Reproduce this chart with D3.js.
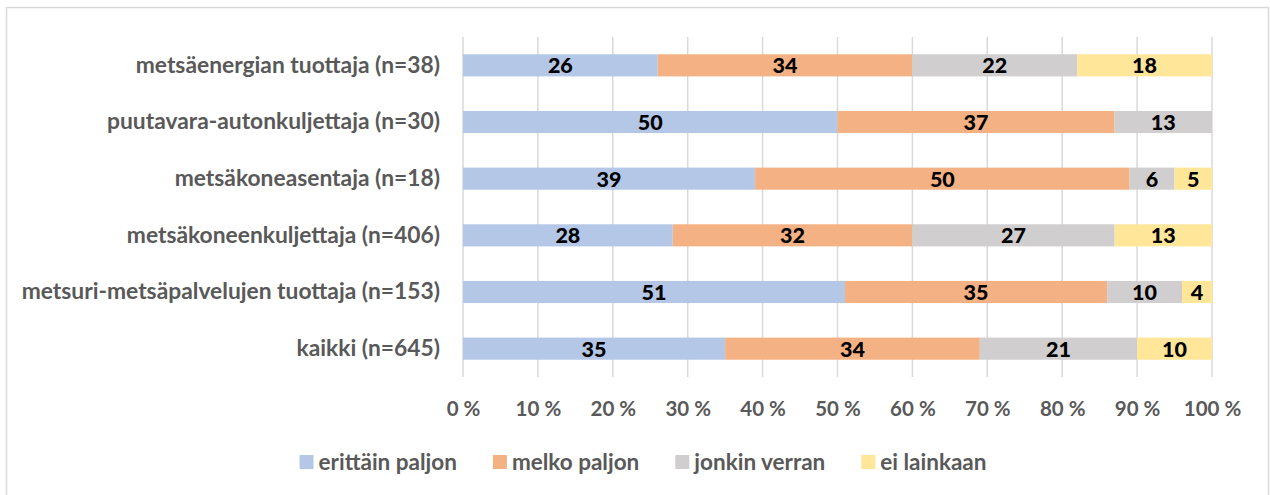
<!DOCTYPE html>
<html>
<head>
<meta charset="utf-8">
<script src="https://cdn.jsdelivr.net/npm/d3@7"></script>
<style>
  html, body { margin: 0; padding: 0; background: #fff; }
  text { font-family: Lato, "Open Sans", sans-serif; font-weight: bold; }
</style>
</head>
<body>
<div id="chart"></div>
<script>
const categories = [
  "metsäenergian tuottaja (n=38)",
  "puutavara-autonkuljettaja (n=30)",
  "metsäkoneasentaja (n=18)",
  "metsäkoneenkuljettaja (n=406)",
  "metsuri-metsäpalvelujen tuottaja (n=153)",
  "kaikki (n=645)"
];
const seriesNames = ["erittäin paljon", "melko paljon", "jonkin verran", "ei lainkaan"];
const erittainPaljon = [26, 50, 39, 28, 51, 35];
const melkoPaljon = [34, 37, 50, 32, 35, 34];
const jonkinVerran = [22, 13, 6, 27, 10, 21];
const eiLainkaan = [18, 0, 5, 13, 4, 10];
const tickValues = [0, 10, 20, 30, 40, 50, 60, 70, 80, 90, 100];
const colors = ["#b4c7e7", "#f4b183", "#d0cece", "#ffe699"];

let width = 1270,
    height = 495,
    margin = {top: 37, right: 58, bottom: 118, left: 463};

let rows = categories.map((c, i) => ({
  cat: c,
  [seriesNames[0]]: erittainPaljon[i],
  [seriesNames[1]]: melkoPaljon[i],
  [seriesNames[2]]: jonkinVerran[i],
  [seriesNames[3]]: eiLainkaan[i]
}));

let stack = d3.stack().keys(seriesNames);
let layers = stack(rows);

let x = d3.scaleLinear().domain([0, 100]).range([margin.left, width - margin.right]);
let y = d3.scaleBand().domain(categories).range([margin.top, height - margin.bottom]).paddingInner(0.61).paddingOuter(0.305);
let color = d3.scaleOrdinal().domain(seriesNames).range(colors);

let svg = d3.select("#chart")
  .append("svg")
  .attr("width", width)
  .attr("height", height);

// chart frame
svg.append("rect")
  .attr("x", 6.5).attr("y", 7.5)
  .attr("width", 1262).attr("height", 495)
  .attr("fill", "none")
  .attr("stroke", "#d9d9d9")
  .attr("stroke-width", 1.5);

// gridlines
svg.append("g")
  .selectAll("line")
  .data(tickValues)
  .join("line")
  .attr("x1", d => x(d)).attr("x2", d => x(d))
  .attr("y1", margin.top).attr("y2", height - margin.bottom)
  .attr("stroke", "#d9d9d9")
  .attr("stroke-width", 1.5);

// x tick labels
let xAxis = svg.append("g")
  .attr("transform", "translate(0," + (height - margin.bottom) + ")")
  .call(d3.axisBottom(x).tickValues(tickValues).tickSize(0).tickPadding(24).tickFormat(d => d + " %"));
xAxis.select(".domain").remove();
xAxis.selectAll("text")
  .attr("fill", "#595959")
  .style("font-size", "20.5px")
  .style("font-family", "Lato, sans-serif")
  .style("font-weight", "bold");

// category labels
let yAxis = svg.append("g")
  .attr("transform", "translate(" + margin.left + ",0)")
  .call(d3.axisLeft(y).tickSize(0).tickPadding(23));
yAxis.select(".domain").remove();
yAxis.selectAll("text")
  .attr("fill", "#595959")
  .style("font-size", "22.8px")
  .style("font-family", "Lato, sans-serif")
  .style("font-weight", "bold");

// bars
let layer = svg.append("g")
  .selectAll("g")
  .data(layers)
  .join("g")
  .attr("fill", d => color(d.key));

layer.selectAll("rect")
  .data(d => d.filter(s => s[1] - s[0] > 0))
  .join("rect")
  .attr("x", d => x(d[0]))
  .attr("y", d => y(d.data.cat))
  .attr("width", d => x(d[1]) - x(d[0]))
  .attr("height", y.bandwidth());

// value labels
layer.selectAll("text")
  .data(d => d.filter(s => s[1] - s[0] > 0))
  .join("text")
  .attr("x", d => (x(d[0]) + x(d[1])) / 2)
  .attr("y", d => y(d.data.cat) + y.bandwidth() / 2)
  .attr("dy", "0.37em")
  .attr("text-anchor", "middle")
  .attr("fill", "#000")
  .style("font-size", "21.5px")
  .style("font-weight", "900")
  .text(d => d[1] - d[0]);

// legend
let legend = svg.append("g").attr("transform", "translate(0,462)");
let item = legend.selectAll("g")
  .data(seriesNames)
  .join("g");
item.append("rect")
  .attr("width", 14).attr("height", 14)
  .attr("y", -7)
  .attr("fill", d => color(d));
item.append("text")
  .attr("x", 19)
  .attr("dy", "0.36em")
  .attr("fill", "#595959")
  .style("font-size", "22.5px")
  .text(d => d);

let offsets = [], pos = 0;
item.each(function (d) {
  offsets.push(pos);
  pos += this.getBBox().width + 36;
});
let total = pos - 36;
let start = 643 - total / 2;
item.attr("transform", (d, i) => "translate(" + (start + offsets[i]) + ",0)");
</script>
</body>
</html>
